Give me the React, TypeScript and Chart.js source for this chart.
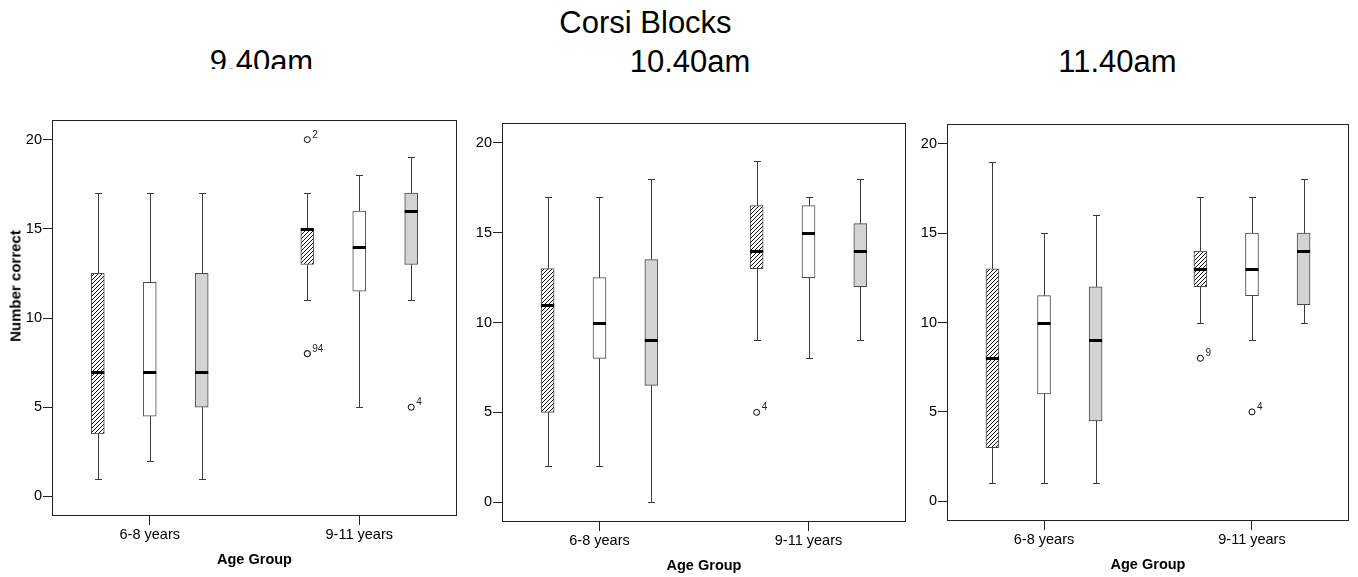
import React, { useEffect, useRef } from 'react';
import { Chart, registerables } from 'chart.js';

Chart.register(...registerables);

// ---------------- data ----------------
const MAIN_TITLE = 'Corsi Blocks';
const SESSION_TITLES = ['9.40am', '10.40am', '11.40am'];
const GROUPS = ['6-8 years', '9-11 years'];
const X_TITLE = 'Age Group';
const Y_TITLE = 'Number correct';
const Y_TICKS = [0, 5, 10, 15, 20];
const SERIES = ['Series 1', 'Series 2', 'Series 3'];

// five-number summaries [min, q1, median, q3, max], indexed [series][group]
const STATS_0940 = [
  [[1, 3.5, 7, 12.5, 17], [11, 13, 15, 15, 17]],
  [[2, 4.5, 7, 12, 17], [5, 11.5, 14, 16, 18]],
  [[1, 5, 7, 12.5, 17], [11, 13, 16, 17, 19]],
];
const STATS_1040 = [
  [[2, 5, 11, 13, 17], [9, 13, 14, 16.5, 19]],
  [[2, 8, 10, 12.5, 17], [8, 12.5, 15, 16.5, 17]],
  [[0, 6.5, 9, 13.5, 18], [9, 12, 14, 15.5, 18]],
];
const STATS_1140 = [
  [[1, 3, 8, 13, 19], [10, 12, 13, 14, 17]],
  [[1, 6, 10, 11.5, 15], [9, 11.5, 13, 15, 17]],
  [[1, 4.5, 9, 12, 16], [10, 11, 14, 15, 18]],
];

// outliers: series index, group index, value, case label
const OUTLIERS_0940 = [
  { series: 0, group: 1, value: 20, label: '2' },
  { series: 0, group: 1, value: 8, label: '9' },
  { series: 0, group: 1, value: 8, label: '4' },
  { series: 2, group: 1, value: 5, label: '4' },
];
const OUTLIERS_1040 = [{ series: 0, group: 1, value: 5, label: '4' }];
const OUTLIERS_1140 = [
  { series: 0, group: 1, value: 8, label: '9' },
  { series: 1, group: 1, value: 5, label: '4' },
];

// ---------------- layout / style ----------------
const FONT = '"Liberation Sans", Arial, Helvetica, sans-serif';
const Y_MIN = -1.1;
const Y_MAX = 21.1;
const X_MIN = -0.4665;
const X_MAX = 1.4665;
const SERIES_OFFSET = 0.248;
const BOX_PX = 13;
const CAP_PX = 7;
const Y_AXIS_W = 52;
const X_AXIS_H = 62;
const PAD_TOP = 20;
const PAD_RIGHT = 10;
const LINE = '#3a3a3a';

const FRAMES = [
  { l: 52, t: 120, r: 457, b: 516 },
  { l: 502, t: 123, r: 906, b: 522 },
  { l: 947, t: 124, r: 1349, b: 521 },
];

function makeHatch(): CanvasPattern | string {
  const c = document.createElement('canvas');
  c.width = 4;
  c.height = 4;
  const ctx = c.getContext('2d');
  if (!ctx) return '#aaa';
  ctx.fillStyle = '#ffffff';
  ctx.fillRect(0, 0, 4, 4);
  ctx.strokeStyle = '#111';
  ctx.lineWidth = 1;
  ctx.beginPath();
  ctx.moveTo(0, 4);
  ctx.lineTo(4, 0);
  ctx.moveTo(-1, 1);
  ctx.lineTo(1, -1);
  ctx.moveTo(3, 5);
  ctx.lineTo(5, 3);
  ctx.stroke();
  return ctx.createPattern(c, 'repeat') || '#aaa';
}

type Outlier = { series: number; group: number; value: number; label: string };

function BoxPanel({ stats, outliers, frame }: { stats: number[][][]; outliers: Outlier[]; frame: { l: number; t: number; r: number; b: number } }) {
  const ref = useRef<HTMLCanvasElement>(null);
  const w = frame.r - frame.l + Y_AXIS_W + PAD_RIGHT;
  const h = frame.b - frame.t + PAD_TOP + X_AXIS_H;
  const left = frame.l - Y_AXIS_W;
  const top = frame.t - PAD_TOP;

  useEffect(() => {
    const canvas = ref.current;
    if (!canvas) return;
    const hatch = makeHatch();
    const fills = [hatch, '#ffffff', '#d3d3d3'];
    const xOf = (s: number, g: number) => g + (s - 1) * SERIES_OFFSET;

    const boxDatasets: any[] = SERIES.map((name, s) => ({
      type: 'bar',
      label: name,
      data: GROUPS.map((_, g) => ({ x: xOf(s, g), y: [stats[s][g][1], stats[s][g][3]] })),
      backgroundColor: fills[s],
      borderColor: '#4a4a4a',
      borderWidth: 1,
      borderSkipped: false,
      barThickness: BOX_PX,
      grouped: false,
      order: 2,
    }));

    const outlierDataset: any = {
      type: 'scatter',
      label: 'Outliers',
      data: outliers.map((o) => ({ x: xOf(o.series, o.group), y: o.value })),
      pointStyle: 'circle',
      pointRadius: 3,
      pointBorderWidth: 1,
      pointBorderColor: '#000',
      pointBackgroundColor: '#fff',
      order: 1,
    };

    const extras = {
      id: 'boxExtras',
      afterDatasetsDraw(chart: any) {
        const { ctx, chartArea: a } = chart;
        const xs = chart.scales.x;
        const ys = chart.scales.y;
        ctx.save();
        stats.forEach((series, s) => {
          const meta = chart.getDatasetMeta(s);
          series.forEach((f, g) => {
            const bar = meta.data[g];
            const cx = Math.round(xs.getPixelForValue(xOf(s, g))) + 0.5;
            const py = f.map((v) => ys.getPixelForValue(v));
            const mn = Math.round(py[0]) + 0.5;
            const q1 = py[1];
            const md = Math.round(py[2]) + 0.5;
            const q3 = py[3];
            const mx = Math.round(py[4]) + 0.5;
            ctx.strokeStyle = LINE;
            ctx.lineWidth = 1;
            ctx.beginPath();
            ctx.moveTo(cx, q3);
            ctx.lineTo(cx, mx);
            ctx.moveTo(cx, q1);
            ctx.lineTo(cx, mn);
            ctx.moveTo(cx - CAP_PX / 2, mx);
            ctx.lineTo(cx + CAP_PX / 2, mx);
            ctx.moveTo(cx - CAP_PX / 2, mn);
            ctx.lineTo(cx + CAP_PX / 2, mn);
            ctx.stroke();
            // median
            const bl = bar ? bar.x - bar.width / 2 : cx - BOX_PX / 2;
            const br = bar ? bar.x + bar.width / 2 : cx + BOX_PX / 2;
            ctx.strokeStyle = '#000';
            ctx.lineWidth = 3;
            ctx.beginPath();
            ctx.moveTo(bl, md);
            ctx.lineTo(br, md);
            ctx.stroke();
          });
        });
        // outlier labels (coincident points share one joined label)
        const seen: Record<string, { x: number; y: number; text: string }> = {};
        outliers.forEach((o) => {
          const key = `${o.series}-${o.group}-${o.value}`;
          if (!seen[key]) {
            seen[key] = { x: xs.getPixelForValue(xOf(o.series, o.group)), y: ys.getPixelForValue(o.value), text: '' };
          }
          seen[key].text += o.label;
        });
        ctx.fillStyle = '#222';
        ctx.font = `10px ${FONT}`;
        ctx.textAlign = 'left';
        ctx.textBaseline = 'alphabetic';
        Object.values(seen).forEach((l) => {
          ctx.fillText(l.text, l.x + 5, l.y - 2);
        });
        // frame
        ctx.strokeStyle = '#222';
        ctx.lineWidth = 1;
        ctx.strokeRect(Math.round(a.left) + 0.5, Math.round(a.top) + 0.5, Math.round(a.right - a.left) - 1, Math.round(a.bottom - a.top) - 1);
        ctx.restore();
      },
    };

    const gridCfg = {
      drawOnChartArea: false,
      drawTicks: true,
      tickLength: 9,
      color: '#222',
      tickColor: '#222',
      offset: false,
    };

    const chart = new Chart(canvas, {
      type: 'bar',
      data: { datasets: [...boxDatasets, outlierDataset] },
      options: {
        animation: false,
        responsive: false,
        devicePixelRatio: 1,
        events: [],
        layout: { padding: { top: PAD_TOP, right: PAD_RIGHT, left: 0, bottom: 0 } },
        plugins: { legend: { display: false }, tooltip: { enabled: false }, title: { display: false } },
        scales: {
          x: {
            type: 'linear',
            min: X_MIN,
            max: X_MAX,
            offset: false,
            afterBuildTicks: (sc: any) => {
              sc.ticks = GROUPS.map((_, i) => ({ value: i }));
            },
            afterFit: (sc: any) => {
              sc.height = X_AXIS_H;
            },
            grid: gridCfg,
            border: { display: false },
            ticks: {
              autoSkip: false,
              maxRotation: 0,
              padding: 1,
              color: '#000',
              font: { family: FONT, size: 14.5 },
              callback: (v: any) => GROUPS[Math.round(Number(v))] ?? '',
            },
            title: {
              display: true,
              text: X_TITLE,
              color: '#000',
              font: { family: FONT, size: 14.5, weight: 'bold' },
              padding: { top: 0, bottom: 9 },
            },
          },
          y: {
            type: 'linear',
            min: Y_MIN,
            max: Y_MAX,
            beginAtZero: false,
            afterBuildTicks: (sc: any) => {
              sc.ticks = Y_TICKS.map((v) => ({ value: v }));
            },
            afterFit: (sc: any) => {
              sc.width = Y_AXIS_W;
            },
            grid: gridCfg,
            border: { display: false },
            ticks: {
              padding: 1,
              color: '#000',
              font: { family: FONT, size: 14.5 },
            },
          },
        },
      } as any,
      plugins: [extras],
    });
    return () => chart.destroy();
  }, [stats, outliers]);

  return (
    <canvas
      ref={ref}
      width={w}
      height={h}
      style={{ position: 'absolute', left, top, width: w, height: h }}
    />
  );
}

const SESSION_CENTERS = [261.5, 690, 1117.5];
const ALL_STATS = [STATS_0940, STATS_1040, STATS_1140];
const ALL_OUTLIERS = [OUTLIERS_0940, OUTLIERS_1040, OUTLIERS_1140];

export default function App() {
  const titleStyle: React.CSSProperties = {
    position: 'absolute',
    fontSize: 31,
    lineHeight: '31px',
    whiteSpace: 'nowrap',
    transform: 'translateX(-50%)',
    color: '#000',
  };
  return (
    <div
      style={{
        position: 'absolute',
        left: 0,
        top: 0,
        width: 1358,
        height: 577,
        background: '#fff',
        fontFamily: FONT,
        overflow: 'hidden',
      }}
    >
      <div style={{ ...titleStyle, left: 645.5, top: 6.8 }}>{MAIN_TITLE}</div>
      {SESSION_TITLES.map((t, i) => (
        <div
          key={t}
          style={{ position: 'absolute', left: 0, top: 0, width: 1358, height: i === 0 ? 69 : 90, overflow: 'hidden' }}
        >
          <div style={{ ...titleStyle, left: SESSION_CENTERS[i], top: 45.8 }}>{t}</div>
        </div>
      ))}
      {FRAMES.map((f, i) => (
        <BoxPanel key={i} stats={ALL_STATS[i]} outliers={ALL_OUTLIERS[i]} frame={f} />
      ))}
      <div
        style={{
          position: 'absolute',
          left: 15,
          top: 286,
          transform: 'translate(-50%, -50%) rotate(-90deg)',
          fontSize: 15,
          fontWeight: 'bold',
          whiteSpace: 'nowrap',
          color: '#000',
        }}
      >
        {Y_TITLE}
      </div>
    </div>
  );
}
